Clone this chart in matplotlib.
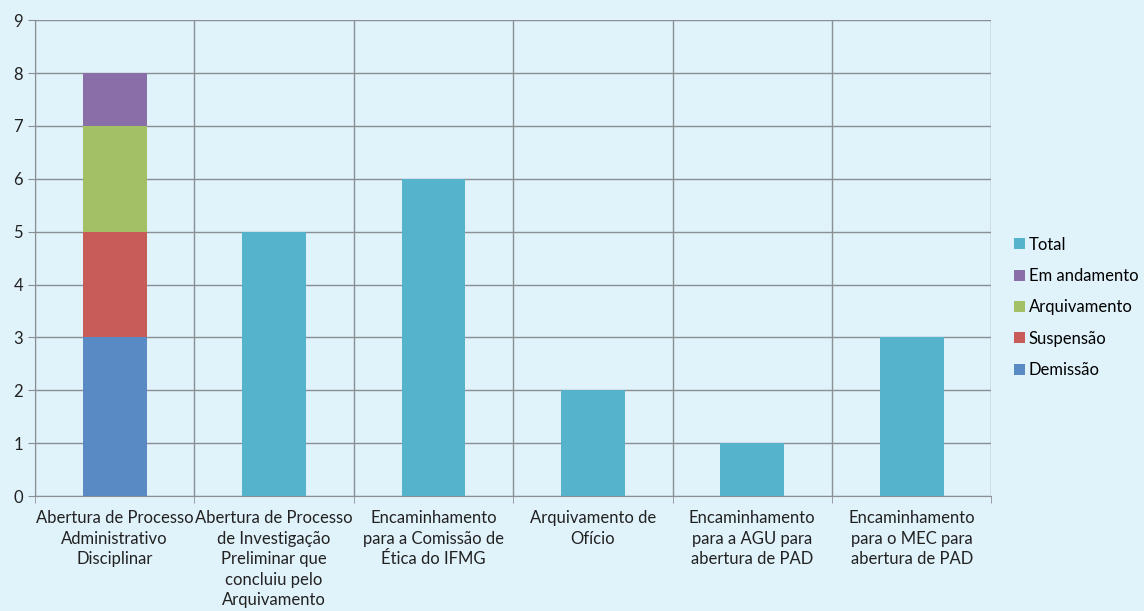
import numpy as np
import matplotlib.pyplot as plt

plt.rcParams['font.family'] = ['Lato', 'DejaVu Sans']

categorias = [
    'Abertura de Processo\nAdministrativo\nDisciplinar',
    'Abertura de Processo\nde Investigação\nPreliminar que\nconcluiu pelo\nArquivamento',
    'Encaminhamento\npara a Comissão de\nÉtica do IFMG',
    'Arquivamento de\nOfício',
    'Encaminhamento\npara a AGU para\nabertura de PAD',
    'Encaminhamento\npara o MEC para\nabertura de PAD',
]
demissao = [3, 0, 0, 0, 0, 0]
suspensao = [2, 0, 0, 0, 0, 0]
arquivamento = [2, 0, 0, 0, 0, 0]
em_andamento = [1, 0, 0, 0, 0, 0]
total = [0, 5, 6, 2, 1, 3]

fundo = '#E0F2FA'
cinza = '#8A8F94'

fig = plt.figure(figsize=(11.44, 6.11), dpi=100, facecolor=fundo)
ax = fig.add_axes([0.0306, 0.188, 0.836, 0.779])
ax.set_facecolor(fundo)

x = np.arange(len(categorias))
w = 0.4
base = np.zeros(len(categorias))
series = [
    ('Demissão', demissao, '#5A8AC4'),
    ('Suspensão', suspensao, '#C85C58'),
    ('Arquivamento', arquivamento, '#A4C064'),
    ('Em andamento', em_andamento, '#8A6EA8'),
]
handles = {}
for nome, vals, cor in series:
    v = np.array(vals, dtype=float)
    handles[nome] = ax.bar(x, v, w, bottom=base, color=cor, label=nome, zorder=3)
    base += v
handles['Total'] = ax.bar(x, total, w, color='#55B3CB', label='Total', zorder=3)

ax.set_xlim(-0.5, len(categorias) - 0.5)
ax.set_ylim(0, 9)
ax.set_yticks(range(10))
ax.set_xticks(x)
ax.set_xticklabels(categorias, fontsize=12, color='#222222', linespacing=1.35)
ax.set_xticks(np.arange(-0.5, len(categorias)), minor=True)
ax.tick_params(axis='x', which='major', length=0, pad=10)
ax.tick_params(axis='x', which='minor', length=5, color=cinza)
ax.tick_params(axis='y', length=5, color=cinza, labelsize=12, labelcolor='#222222')
ax.grid(axis='y', color=cinza, linewidth=1, zorder=0)
ax.grid(axis='x', which='minor', color=cinza, linewidth=1, zorder=0)
for s in ax.spines.values():
    s.set_visible(False)
ax.spines['left'].set_visible(True)
ax.spines['left'].set_color(cinza)
ax.spines['bottom'].set_visible(True)
ax.spines['bottom'].set_color(cinza)

ordem = ['Total', 'Em andamento', 'Arquivamento', 'Suspensão', 'Demissão']
fig.legend([handles[k] for k in ordem], ordem, loc='center left',
           bbox_to_anchor=(0.873, 0.497), frameon=False, fontsize=12,
           handlelength=0.65, handleheight=0.65, handletextpad=0.25,
           labelspacing=0.92)

fig.savefig('out.png', dpi=100, facecolor=fundo)
